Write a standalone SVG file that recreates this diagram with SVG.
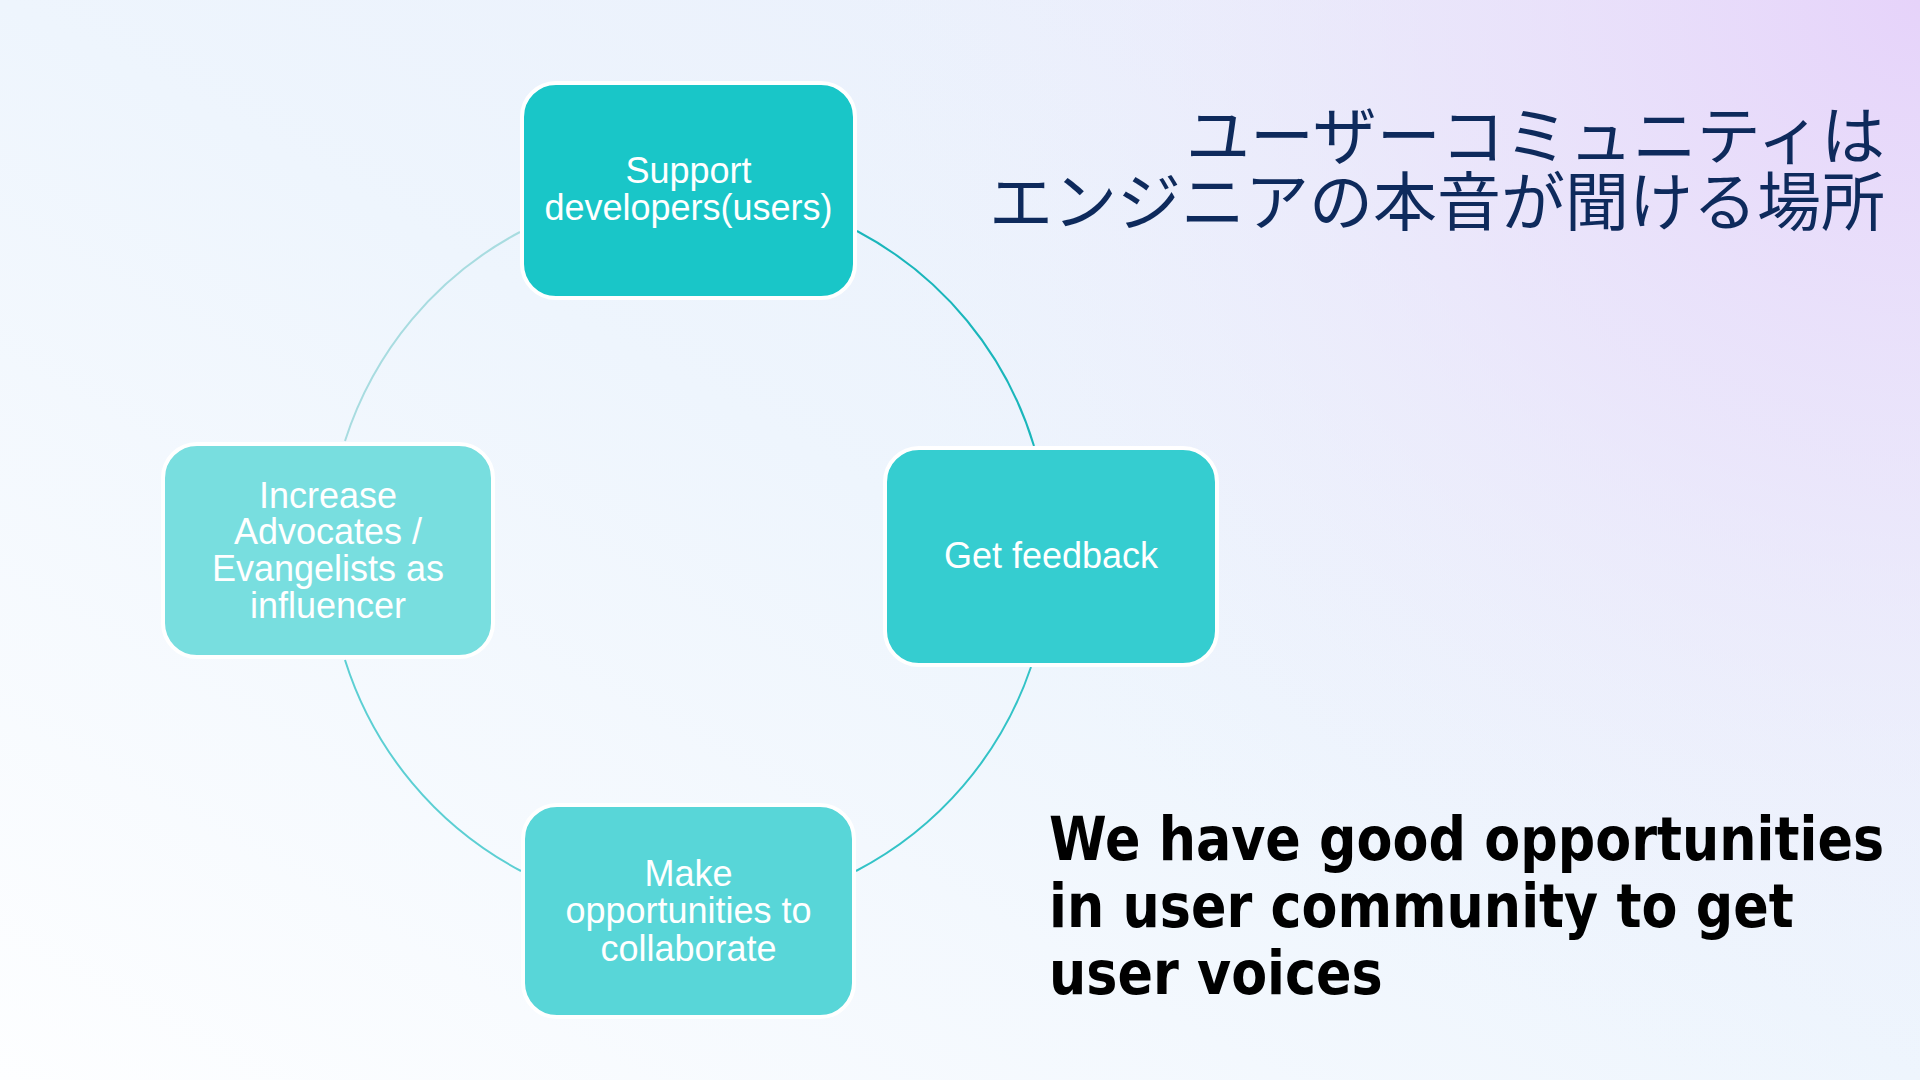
<svg xmlns="http://www.w3.org/2000/svg" width="1920" height="1080" viewBox="0 0 1920 1080">
  <defs>
    <linearGradient id="bgBase" x1="0" y1="1" x2="1" y2="0">
      <stop offset="0" stop-color="#FDFEFF"/>
      <stop offset="0.5" stop-color="#EEF5FD"/>
      <stop offset="1" stop-color="#E8EDFB"/>
    </linearGradient>
    <radialGradient id="bgLav" cx="1920" cy="0" r="1100" gradientUnits="userSpaceOnUse">
      <stop offset="0" stop-color="#E6D3FA" stop-opacity="1"/>
      <stop offset="0.45" stop-color="#EADFFA" stop-opacity="0.6"/>
      <stop offset="1" stop-color="#EEF2FC" stop-opacity="0"/>
    </radialGradient>
    <style>
      .node rect { stroke: #FFFFFF; stroke-width: 4; }
      .node text { font-family: "Liberation Sans", Arial, sans-serif; font-size: 36px; fill: #FFFFFF; text-anchor: middle; }
      .arc { fill: none; stroke-width: 2; }
      .jp { font-family: "Noto Sans CJK JP", "Noto Sans", sans-serif; font-size: 64px; fill: #0E2A5C; text-anchor: end; }
      .en { font-family: "DejaVu Sans", Verdana, sans-serif; font-weight: bold; font-size: 60px; fill: #000000; }
    </style>
  </defs>

  <rect x="0" y="0" width="1920" height="1080" fill="url(#bgBase)"/>
  <rect x="0" y="0" width="1920" height="1080" fill="url(#bgLav)"/>

  <g id="connectors">
    <path class="arc" stroke="#1AB6BB" d="M 857 231 A 361 361 0 0 1 1034 446"/>
    <path class="arc" stroke="#33C3C7" d="M 1031 667 A 361 361 0 0 1 856 871"/>
    <path class="arc" stroke="#5CCFD3" d="M 521 871 A 361 361 0 0 1 345 660"/>
    <path class="arc" stroke="#A8DCE0" d="M 345 441 A 361 361 0 0 1 520 232"/>
  </g>

  <g id="node-support" class="node">
    <rect x="522" y="83" width="333" height="215" rx="34" fill="#19C6C8"/>
    <text x="688.5" y="183">Support</text>
    <text x="688.5" y="220">developers(users)</text>
  </g>

  <g id="node-feedback" class="node">
    <rect x="885" y="448" width="332" height="217" rx="34" fill="#35CDD0"/>
    <text x="1051" y="568">Get feedback</text>
  </g>

  <g id="node-collaborate" class="node">
    <rect x="523" y="805" width="331" height="212" rx="34" fill="#58D6D8"/>
    <text x="688.5" y="886">Make</text>
    <text x="688.5" y="923">opportunities to</text>
    <text x="688.5" y="961">collaborate</text>
  </g>

  <g id="node-advocates" class="node">
    <rect x="163" y="444" width="330" height="213" rx="34" fill="#78DEDF"/>
    <text x="328" y="508">Increase</text>
    <text x="328" y="544">Advocates /</text>
    <text x="328" y="581">Evangelists as</text>
    <text x="328" y="618">influencer</text>
  </g>

  <g id="title-jp">
    <text class="jp" x="1885" y="159">ユーザーコミュニティは</text>
    <text class="jp" x="1885" y="225">エンジニアの本音が聞ける場所</text>
  </g>

  <g id="message-en" transform="translate(1049,0) scale(0.873,1)">
    <text class="en" x="0" y="860">We have good opportunities</text>
    <text class="en" x="0" y="927">in user community to get</text>
    <text class="en" x="0" y="994">user voices</text>
  </g>
</svg>
